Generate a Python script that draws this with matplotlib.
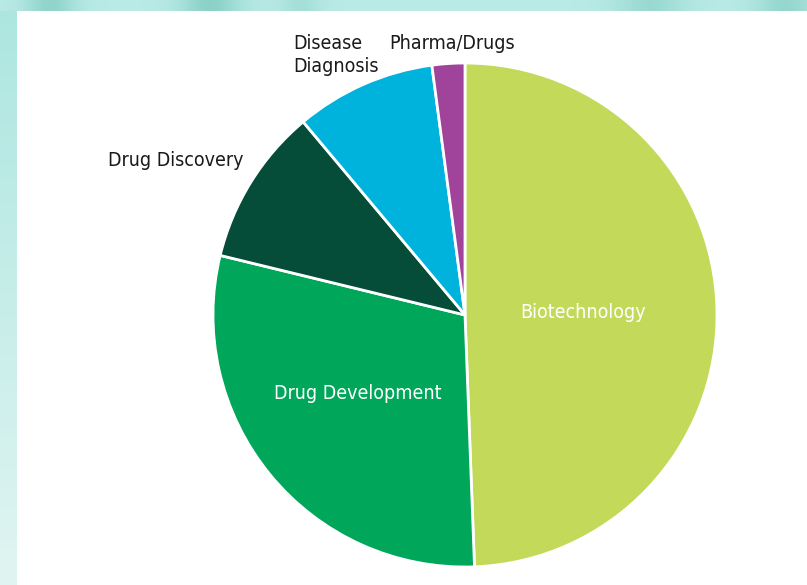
import numpy as np
import matplotlib
matplotlib.use("Agg")
import matplotlib.pyplot as plt
from matplotlib.colors import LinearSegmentedColormap

plt.rcParams['font.family'] = ['DejaVu Sans']
plt.rcParams['font.stretch'] = 'condensed'

# data (share of projects, %)
categories = ['Biotechnology', 'Drug Development', 'Drug Discovery',
              'Disease Diagnosis', 'Pharma/Drugs']
label_texts = ['Biotechnology', 'Drug Development', 'Drug Discovery',
               'Disease\nDiagnosis', 'Pharma/Drugs']
shares = [49.4, 29.4, 10.1, 9.0, 2.1]
colors = ['#C2D95A', '#00A659', '#054D38', '#00B3DC', '#A0439A']

W, H = 807, 585
fig = plt.figure(figsize=(W / 100, H / 100), dpi=100)
fig.patch.set_facecolor('white')

# teal frame: top strip with darker blotches, left strip fading downwards
teal = LinearSegmentedColormap.from_list('tl', ['#B9EAE5', '#86CFC6'])
top = fig.add_axes([0, 1 - 11 / H, 1, 11 / H])
xs = np.arange(W)
blotches = [(50, 25, 0.8), (210, 30, 0.9), (300, 20, 0.4), (650, 35, 0.6), (785, 30, 0.7)]
top_band = np.zeros(W)
for c, s, a in blotches:
    top_band += a * np.exp(-((xs - c) / s) ** 2)
top.imshow(np.clip(top_band, 0, 1)[np.newaxis, :], aspect='auto', cmap=teal,
           vmin=0, vmax=1)
top.axis('off')

left = fig.add_axes([0, 0, 17 / W, 1 - 11 / H])
ys = np.linspace(0, 1, 300)
left.imshow(ys[:, np.newaxis], aspect='auto', origin='lower',
            cmap=LinearSegmentedColormap.from_list('lf', ['#E0F5F2', '#ADE6E0']))
left.axis('off')

cx, cy, r = 465, 315, 252
ax = fig.add_axes([(cx - r) / W, (H - cy - r) / H, 2 * r / W, 2 * r / H])
wedges, _ = ax.pie(shares, colors=colors, startangle=90, counterclock=False,
                   wedgeprops=dict(edgecolor='white', linewidth=2))
ax.set_xlim(-1, 1)
ax.set_ylim(-1, 1)
ax.axis('off')

# label placement: distance from centre, angle nudge, alignment, colour
label_style = [
    (0.47, 0, 'center', 'white'),
    (0.53, -3, 'center', 'white'),
    (1.07, -3, 'right', '#1a1a1a'),
    (1.06, 0, 'left', '#1a1a1a'),
    (1.08, -1, 'center', '#1a1a1a'),
]
for w, txt, (dist, nudge, ha, col) in zip(wedges, label_texts, label_style):
    ang = np.deg2rad((w.theta1 + w.theta2) / 2 + nudge)
    x, y = dist * np.cos(ang), dist * np.sin(ang)
    if txt.startswith('Disease'):
        x, y = -0.68, 1.032
    ax.text(x, y, txt, ha=ha, va='center', color=col, fontsize=14,
            linespacing=1.25, clip_on=False)

fig.savefig('out.png', dpi=100)
